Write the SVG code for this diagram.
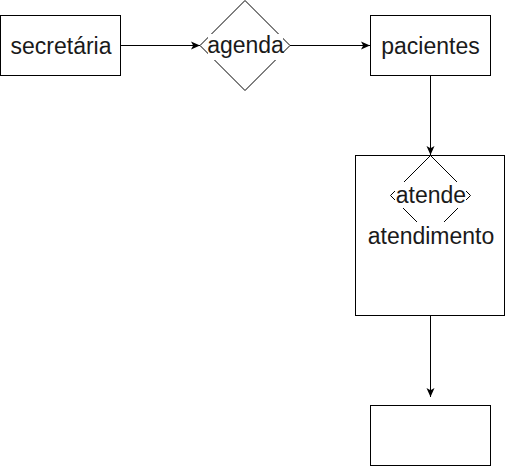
<svg xmlns="http://www.w3.org/2000/svg" width="506" height="466" viewBox="0 0 506 466">
<style>
.box{fill:none;stroke:#000;stroke-width:1}
.dia{fill:none;stroke:#000;stroke-width:1}
.lbl{font-family:"Liberation Sans",Arial,sans-serif;font-size:23px;fill:#1a1a1a;text-anchor:middle}
.bg{fill:#fff;stroke:none}
.edge{fill:none;stroke:#000;stroke-width:1}
</style>
<defs>
<marker id="arr" markerUnits="userSpaceOnUse" markerWidth="9" markerHeight="9" viewBox="0 0 9 9" refX="9" refY="4.5" orient="auto">
<path d="M0,0.5 L9,4.5 L0,8.5 L2.2,4.5 Z" fill="#000"/>
</marker>
</defs>
<rect width="506" height="466" fill="#fff"/>
<g id="connectors">
<path class="edge" d="M121,45.5 L200,45.5" marker-end="url(#arr)"/>
<path class="edge" d="M290,45.5 L370,45.5" marker-end="url(#arr)"/>
<path class="edge" d="M430.5,76 L430.5,155" marker-end="url(#arr)"/>
<path class="edge" d="M430.5,316 L430.5,397" marker-end="url(#arr)"/>
</g>
<g id="secretaria">
<rect class="box" x="0.5" y="15.5" width="120" height="60"/>
<text class="lbl" x="61" y="53.5">secretária</text>
</g>
<g id="agenda">
<polygon class="dia" points="245,0.5 290,45.5 245,90.5 200,45.5"/>
<rect class="bg" x="208" y="34" width="75" height="26"/>
<text class="lbl" x="245.5" y="53">agenda</text>
</g>
<g id="pacientes">
<rect class="box" x="370.5" y="15.5" width="120" height="60"/>
<text class="lbl" x="430.5" y="53.5">pacientes</text>
</g>
<g id="atende">
<polygon class="dia" points="430.5,155.5 470.5,195.5 430.5,235.5 390.5,195.5"/>
<rect class="bg" x="395" y="182" width="71" height="26"/>
<text class="lbl" x="431" y="203">atende</text>
</g>
<g id="atendimento">
<rect class="box" x="355.5" y="155.5" width="149" height="160"/>
<rect class="bg" x="365" y="222" width="132" height="27"/>
<text class="lbl" x="431" y="243.5">atendimento</text>
</g>
<g id="empty">
<rect class="box" x="370.5" y="405.5" width="120" height="60"/>
</g>
</svg>
